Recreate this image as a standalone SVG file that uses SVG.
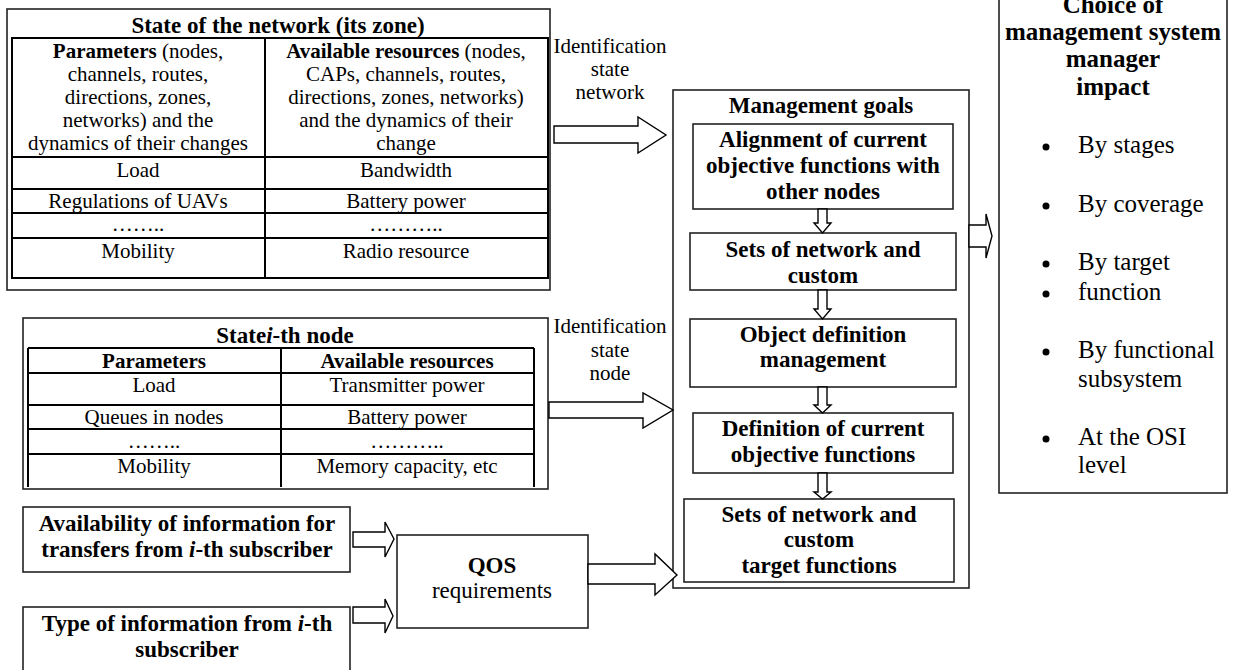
<svg xmlns="http://www.w3.org/2000/svg" width="1235" height="670" viewBox="0 0 1235 670" font-family="'Times New Roman', 'Liberation Serif', serif">
<style>
text{font-family:"Times New Roman","Liberation Serif",serif;fill:#000;text-anchor:middle}
.t21{font-size:21px}
.t23{font-size:23px}
.t25{font-size:25px}
.b{font-weight:bold}
.bi{font-weight:bold;font-style:italic}
.lt{text-anchor:start}
.box{fill:#fff;stroke:#222;stroke-width:1.6}
.tl{stroke:#000;stroke-width:2;fill:none}
.arr{fill:#fff;stroke:#000;stroke-width:1.4;stroke-linejoin:miter}
</style>
<rect width="1235" height="670" fill="#fff"/>

<g id="network-state">
<rect class="box" x="7" y="9" width="543" height="281"/>
<rect class="tl" x="12" y="38" width="536" height="240"/>
<line class="tl" x1="265" y1="38" x2="265" y2="278"/>
<line class="tl" x1="12" y1="157" x2="548" y2="157"/>
<line class="tl" x1="12" y1="189" x2="548" y2="189"/>
<line class="tl" x1="12" y1="213" x2="548" y2="213"/>
<line class="tl" x1="12" y1="238" x2="548" y2="238"/>
<text class="t23 b" x="278" y="33">State of the network (its zone)</text>
<text class="t21" x="138" y="58"><tspan class="b">Parameters</tspan> (nodes,</text>
<text class="t21" x="138" y="81">channels, routes,</text>
<text class="t21" x="138" y="104">directions, zones,</text>
<text class="t21" x="138" y="127">networks) and the</text>
<text class="t21" x="138" y="150">dynamics of their changes</text>
<text class="t21" x="406" y="58"><tspan class="b">Available resources</tspan> (nodes,</text>
<text class="t21" x="406" y="81">CAPs, channels, routes,</text>
<text class="t21" x="406" y="104">directions, zones, networks)</text>
<text class="t21" x="406" y="127">and the dynamics of their</text>
<text class="t21" x="406" y="150">change</text>
<text class="t21" x="138" y="177">Load</text>
<text class="t21" x="406" y="177">Bandwidth</text>
<text class="t21" x="138" y="208">Regulations of UAVs</text>
<text class="t21" x="406" y="208">Battery power</text>
<text class="t21" x="138" y="231">……..</text>
<text class="t21" x="406" y="231">………..</text>
<text class="t21" x="138" y="258">Mobility</text>
<text class="t21" x="406" y="258">Radio resource</text>
</g>

<g id="node-state">
<rect class="box" x="23" y="318" width="525" height="171"/>
<line class="tl" x1="28" y1="348" x2="534" y2="348"/>
<line class="tl" x1="28" y1="348" x2="28" y2="487"/>
<line class="tl" x1="534" y1="348" x2="534" y2="487"/>
<line class="tl" x1="281" y1="348" x2="281" y2="487"/>
<line class="tl" x1="28" y1="373" x2="534" y2="373"/>
<line class="tl" x1="28" y1="405" x2="534" y2="405"/>
<line class="tl" x1="28" y1="429" x2="534" y2="429"/>
<line class="tl" x1="28" y1="454" x2="534" y2="454"/>
<text class="t23 b" x="285" y="343">State<tspan class="bi">i</tspan>-th node</text>
<text class="t21 b" x="154" y="368">Parameters</text>
<text class="t21 b" x="407" y="368">Available resources</text>
<text class="t21" x="154" y="392">Load</text>
<text class="t21" x="407" y="392">Transmitter power</text>
<text class="t21" x="154" y="424">Queues in nodes</text>
<text class="t21" x="407" y="424">Battery power</text>
<text class="t21" x="154" y="448">……..</text>
<text class="t21" x="407" y="448">………..</text>
<text class="t21" x="154" y="473">Mobility</text>
<text class="t21" x="407" y="473">Memory capacity, etc</text>
</g>

<g id="availability">
<rect class="box" x="23" y="507" width="327" height="65"/>
<text class="t23 b" x="187" y="531">Availability of information for</text>
<text class="t23 b" x="187" y="557">transfers from <tspan class="bi">i</tspan>-th subscriber</text>
</g>

<g id="info-type">
<rect class="box" x="23" y="607" width="327" height="70"/>
<text class="t23 b" x="187" y="631">Type of information from <tspan class="bi">i</tspan>-th</text>
<text class="t23 b" x="187" y="657">subscriber</text>
</g>

<g id="qos">
<rect class="box" x="397" y="535" width="191" height="93"/>
<text class="t23 b" x="492" y="573">QOS</text>
<text class="t23" x="492" y="598">requirements</text>
</g>

<g id="management-goals">
<rect class="box" x="673" y="90" width="296" height="498"/>
<text class="t23 b" x="821" y="113">Management goals</text>
</g>

<g id="alignment">
<rect class="box" x="693" y="124" width="260" height="85"/>
<text class="t23 b" x="823" y="147">Alignment of current</text>
<text class="t23 b" x="823" y="173">objective functions with</text>
<text class="t23 b" x="823" y="199">other nodes</text>
</g>

<g id="sets-custom">
<rect class="box" x="690" y="233" width="266" height="57"/>
<text class="t23 b" x="823" y="257">Sets of network and</text>
<text class="t23 b" x="823" y="283">custom</text>
</g>

<g id="object-definition">
<rect class="box" x="690" y="319" width="266" height="68"/>
<text class="t23 b" x="823" y="342">Object definition</text>
<text class="t23 b" x="823" y="367">management</text>
</g>

<g id="definition-current">
<rect class="box" x="693" y="413" width="260" height="60"/>
<text class="t23 b" x="823" y="436">Definition of current</text>
<text class="t23 b" x="823" y="462">objective functions</text>
</g>

<g id="sets-target">
<rect class="box" x="684" y="499" width="270" height="83"/>
<text class="t23 b" x="819" y="522">Sets of network and</text>
<text class="t23 b" x="819" y="547">custom</text>
<text class="t23 b" x="819" y="573">target functions</text>
</g>

<g id="choice">
<rect class="box" x="999" y="-5" width="228" height="498"/>
<text class="t25 b" x="1113" y="13">Choice of</text>
<text class="t25 b" x="1113" y="40">management system</text>
<text class="t25 b" x="1113" y="67">manager</text>
<text class="t25 b" x="1113" y="95">impact</text>
<g fill="#000">
<circle cx="1046" cy="147" r="3.5"/>
<circle cx="1046" cy="206" r="3.5"/>
<circle cx="1046" cy="264" r="3.5"/>
<circle cx="1046" cy="294" r="3.5"/>
<circle cx="1046" cy="352" r="3.5"/>
<circle cx="1046" cy="439" r="3.5"/>
</g>
<text class="t25 lt" x="1078" y="153">By stages</text>
<text class="t25 lt" x="1078" y="212">By coverage</text>
<text class="t25 lt" x="1078" y="270">By target</text>
<text class="t25 lt" x="1078" y="300">function</text>
<text class="t25 lt" x="1078" y="358">By functional</text>
<text class="t25 lt" x="1078" y="387">subsystem</text>
<text class="t25 lt" x="1078" y="445">At the OSI</text>
<text class="t25 lt" x="1078" y="473">level</text>
</g>

<g id="connectors">
<polygon class="arr" points="554,126 638,126 638,117 666,135 638,153 638,143 554,143"/>
<text class="t21" x="610" y="53">Identification</text>
<text class="t21" x="610" y="76">state</text>
<text class="t21" x="610" y="99">network</text>
<polygon class="arr" points="549,402 643,402 643,393 673,410 643,428 643,418 549,418"/>
<text class="t21" x="610" y="333">Identification</text>
<text class="t21" x="610" y="357">state</text>
<text class="t21" x="610" y="380">node</text>
<polygon class="arr" points="353,532 385,532 385,522 394,539 385,557 385,547 353,547"/>
<polygon class="arr" points="353,607 385,607 385,599 393,616 385,633 385,623 353,623"/>
<polygon class="arr" points="588,564 655,564 655,554 677,575 655,595 655,584 588,584"/>
<polygon class="arr" points="969,225 986,225 986,214 992,236 986,258 986,247 969,247"/>
<polygon class="arr" points="818,209 827,209 827,223 831,223 822.5,233 814,223 818,223"/>
<polygon class="arr" points="818,290 827,290 827,309 831,309 822.5,319 814,309 818,309"/>
<polygon class="arr" points="818,387 827,387 827,405 831,405 822.5,413 814,405 818,405"/>
<polygon class="arr" points="818,473 827,473 827,492 831,492 822.5,499 814,492 818,492"/>
</g>
</svg>
